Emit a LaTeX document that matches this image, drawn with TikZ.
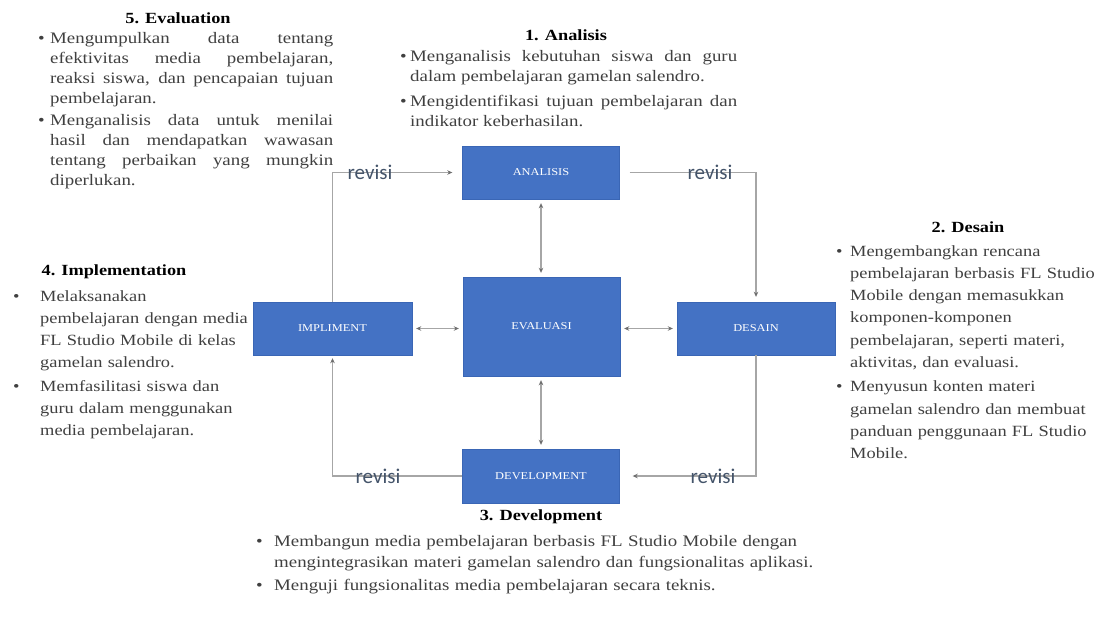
\documentclass[tikz,border=0pt]{standalone}
\usepackage{fontspec}
\setmainfont{Liberation Serif}[FakeStretch=1.18]
\newfontfamily\calibri{Carlito}
\usetikzlibrary{arrows.meta,calc}
\definecolor{boxblue}{HTML}{4472C4}
\definecolor{boxedge}{HTML}{3A66B5}
\definecolor{linegray}{HTML}{A6A6A6}
\definecolor{tipgray}{HTML}{6E6E6E}
\definecolor{txtgray}{HTML}{404040}
\definecolor{revblue}{HTML}{44546A}
% bullet with hanging indent (set inside the paragraph), and a small gap between bullets
\newcommand\bul[1]{\par\noindent\hangindent=#1\relax\hangafter=1\relax\makebox[#1][l]{\textbullet}}
\newcommand\gap[1]{\par\vspace{#1}}

\begin{document}
\begin{tikzpicture}[x=1pt,y=-1pt,
  phase/.style={draw=boxedge,fill=boxblue,minimum width=157pt,minimum height=53pt,
    inner sep=0pt,text=white,font=\fontsize{10.5}{12}\selectfont},
  ttl/.style={font=\fontsize{15.5}{18}\selectfont\bfseries},
  body/.style={anchor=north west,inner sep=0pt,text=txtgray},
  rev/.style={font=\calibri\fontsize{21}{24}\selectfont,text=revblue,inner sep=0pt},
  link/.style={draw=linegray,line width=1.1pt,-{Stealth[length=5pt,width=4.5pt,color=tipgray]}},
  both/.style={link,{Stealth[length=5pt,width=4.5pt,color=tipgray]}-{Stealth[length=5pt,width=4.5pt,color=tipgray]},
    shorten <=4pt,shorten >=4pt}
]
\fill[white] (0,0) rectangle (1099,619);
\useasboundingbox (0,0) rectangle (1099,619);

% phases
\node[phase] (ana) at (541,172.5) {ANALISIS};
\node[phase,minimum height=99pt] (eva) at (541.5,326.5) {EVALUASI};
\node[phase,minimum width=159pt] (imp) at (332.5,328.5) {IMPLIMENT};
\node[phase,minimum width=158pt] (des) at (756,328.5) {DESAIN};
\node[phase,minimum height=54pt] (dev) at (541,476) {DEVELOPMENT};

% revision loop
\draw[link,shorten >=10pt] (imp.north) |- (ana.west);
\draw[link,shorten <=10pt,shorten >=5pt] (ana.east) -| (des.north);
\draw[link,shorten >=13pt] (des.south) |- (dev.east);
\draw[link,shorten >=3pt] (dev.west) -| (imp.south);
\node[rev] (r1) at (370,172) {revisi};
\node[rev] (r2) at (710,172) {revisi};
\node[rev] (r3) at (713,476) {revisi};
\node[rev] (r4) at (378,476) {revisi};

% evaluation links
\draw[both] (ana.south) -- (ana.south |- eva.north);
\draw[both] (imp.east) -- (imp.east -| eva.west);
\draw[both] (des.west -| eva.east) -- (des.west);
\draw[both] (dev.north |- eva.south) -- (dev.north);

% descriptions
\node[ttl] (t5) at (178,18) {5. Evaluation};
\node[body,text width=295pt,align=justify,font=\fontsize{16}{20}\selectfont] (b5) at (38,23.5)
  {\bul{12pt}Mengumpulkan data tentang\linebreak efektivitas media pembelajaran,\linebreak
   reaksi siswa, dan pencapaian tujuan\linebreak pembelajaran.\gap{2pt}
   \bul{12pt}Menganalisis data untuk menilai\linebreak hasil dan mendapatkan wawasan\linebreak
   tentang perbaikan yang mungkin\linebreak diperlukan.\par};

\node[ttl] (t1) at (566,35) {1. Analisis};
\node[body,text width=337pt,align=justify,font=\fontsize{16}{20}\selectfont] (b1) at (400,41.5)
  {\bul{10pt}Menganalisis kebutuhan siswa dan guru\linebreak dalam pembelajaran gamelan salendro.\gap{5pt}
   \bul{10pt}Mengidentifikasi tujuan pembelajaran dan\linebreak indikator keberhasilan.\par};

\node[ttl] (t2) at (968,227) {2. Desain};
\node[body,text width=261pt,align=left,font=\fontsize{15.6}{22.3}\selectfont] (b2) at (836,233.5)
  {\bul{14pt}Mengembangkan rencana\newline pembelajaran berbasis FL Studio\newline
   Mobile dengan memasukkan\newline komponen-komponen\newline
   pembelajaran, seperti materi,\newline aktivitas, dan evaluasi.\gap{2pt}
   \bul{14pt}Menyusun konten materi\newline gamelan salendro dan membuat\newline
   panduan penggunaan FL Studio\newline Mobile.\par};

\node[ttl] (t4) at (114,272) {4. Implementation};
\node[body,text width=245pt,align=left,font=\fontsize{15.6}{22}\selectfont] (b4) at (13,279.5)
  {\bul{27pt}Melaksanakan\newline pembelajaran dengan media\newline
   FL Studio Mobile di kelas\newline gamelan salendro.\gap{2pt}
   \bul{27pt}Memfasilitasi siswa dan\newline guru dalam menggunakan\newline media pembelajaran.\par};

\node[ttl] (t3) at (541,517) {3. Development};
\node[body,text width=580pt,align=left,font=\fontsize{16}{21}\selectfont] (b3) at (256,525.5)
  {\bul{18pt}Membangun media pembelajaran berbasis FL Studio Mobile dengan\newline
   mengintegrasikan materi gamelan salendro dan fungsionalitas aplikasi.\gap{2pt}
   \bul{18pt}Menguji fungsionalitas media pembelajaran secara teknis.\par};
\end{tikzpicture}
\end{document}
